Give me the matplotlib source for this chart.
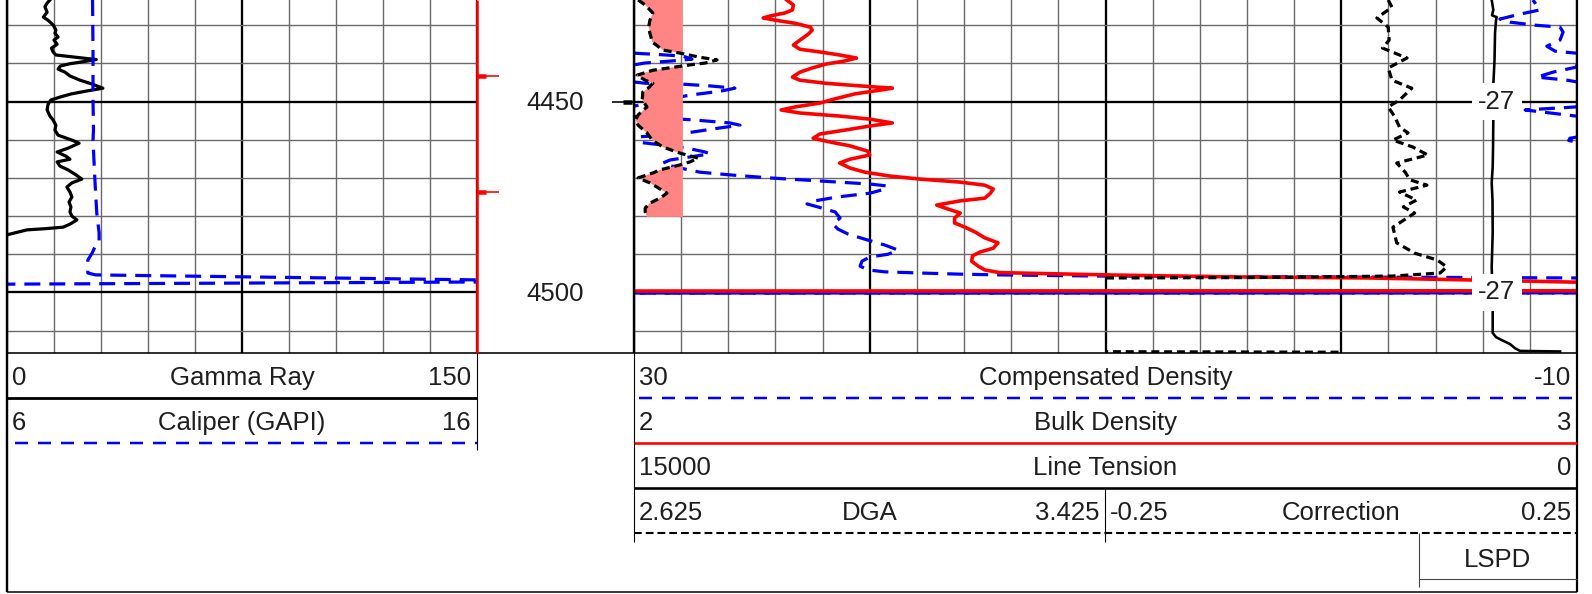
import matplotlib
matplotlib.use("Agg")
import matplotlib.pyplot as plt
import numpy as np

plt.rcParams['font.family'] = ['Liberation Sans', 'DejaVu Sans']

# ---------------- data ----------------
depth_top, depth_bot = 4423.4, 4515.85      # visible depth window
grid_minor = np.arange(4430, 4511, 10)
grid_major = [4450, 4500]

# header rows: (left scale, name, right scale)
hdr_gr = ('0', 'Gamma Ray', '150')
hdr_cal = ('6', 'Caliper (GAPI)', '16')
hdr_cd = ('30', 'Compensated Density', '-10')
hdr_bd = ('2', 'Bulk Density', '3')
hdr_lt = ('15000', 'Line Tension', '0')
hdr_dga = ('2.625', 'DGA', '3.425')
hdr_cor = ('-0.25', 'Correction', '0.25')

depth_labels = [4450, 4500]
shift_labels = [(4450, '-27'), (4500, '-27')]
red_marks = [4443.3, 4473.6]
black_marks = [4450.0]
dga_cutoff = 2.708

# curves as (depth, value)
gamma_ray = np.array([
    (4423.4, 13.7), (4424.2, 12.8), (4425.2, 12.1), (4426.6, 12.8), (4427.9, 11.6),
    (4428.7, 13.1), (4430.0, 14.8), (4431.3, 15.6), (4432.1, 15.3), (4433.1, 16.3),
    (4433.9, 15.0), (4435.0, 16.0), (4436.0, 14.2), (4437.0, 14.7), (4437.8, 15.6),
    (4438.4, 22.0), (4439.0, 28.5), (4439.6, 24.0), (4440.1, 20.0), (4440.7, 17.0),
    (4441.5, 16.3), (4442.3, 18.5), (4443.3, 20.1), (4444.4, 23.3), (4445.4, 27.1),
    (4446.5, 30.6), (4447.3, 25.0), (4448.0, 20.5), (4448.8, 17.0), (4449.6, 14.0),
    (4450.7, 13.1), (4452.2, 12.8), (4453.8, 13.7), (4454.8, 14.7), (4456.2, 15.6),
    (4457.5, 15.3), (4458.8, 16.3), (4460.1, 20.7), (4460.9, 23.0), (4462.2, 19.5),
    (4463.2, 16.0), (4464.3, 18.8), (4465.1, 20.1), (4465.8, 16.0), (4466.9, 16.9),
    (4467.9, 19.5), (4469.2, 22.0), (4470.3, 23.9), (4471.3, 20.7), (4472.4, 19.1),
    (4473.7, 20.1), (4475.0, 20.7), (4476.3, 19.8), (4477.6, 20.4), (4478.9, 20.1),
    (4480.0, 20.7), (4481.0, 22.3), (4482.1, 20.1), (4482.9, 17.9), (4483.3, 12.0),
    (4483.6, 6.4), (4484.9, 0.0), (4485.2, -2.2)])

caliper = np.array([
    (4423.4, 7.82), (4436.5, 7.83), (4449.6, 7.83), (4457.5, 7.84), (4460.1, 7.83),
    (4470.5, 7.87), (4479.2, 7.91), (4484.4, 7.96), (4487.0, 7.96), (4488.1, 7.87),
    (4489.7, 7.81), (4491.5, 7.72), (4494.9, 7.72), (4495.4, 7.89), (4496.7, 16.0),
    (4496.9, 17.0), (4497.2, 17.0), (4497.8, 6.3), (4497.9, 5.0)])

comp_density = np.array([
    (4423.4, 31.87), (4426.0, 31.57), (4427.1, 32.42), (4428.4, 33.27), (4429.2, 32.84),
    (4430.0, 31.78), (4430.5, 30.72), (4431.8, 30.59), (4433.9, 30.72), (4435.5, 31.28),
    (4436.8, 30.93), (4437.3, 30.08), (4437.5, 29.5), (4437.7, 28.9), (4438.1, 27.92),
    (4438.9, 27.54), (4439.4, 28.47), (4439.9, 29.53), (4440.4, 30.0), (4441.0, 30.04),
    (4442.3, 31.02), (4443.6, 31.7), (4444.4, 30.42), (4444.9, 29.96), (4445.2, 29.53),
    (4445.4, 28.05), (4445.9, 26.78), (4446.5, 25.72), (4447.3, 26.35), (4448.3, 27.62),
    (4449.6, 28.77), (4450.7, 29.62), (4451.2, 30.0), (4451.4, 30.04), (4452.2, 32.2),
    (4453.8, 30.04), (4454.0, 29.9), (4454.3, 28.77), (4454.8, 27.5), (4455.6, 25.93),
    (4456.2, 25.5), (4456.9, 26.35), (4458.2, 27.75), (4459.0, 29.19), (4459.3, 30.0),
    (4459.6, 30.3), (4460.2, 30.35), (4460.6, 29.97), (4460.8, 29.6), (4461.4, 28.77),
    (4462.2, 27.75), (4463.2, 26.99), (4463.7, 26.78), (4464.5, 27.62), (4465.3, 28.47),
    (4466.1, 28.77), (4466.9, 28.39), (4467.4, 28.05), (4468.5, 27.2), (4469.2, 25.93),
    (4470.0, 24.23), (4470.8, 22.11), (4471.6, 19.99), (4472.1, 19.27), (4472.9, 19.35),
    (4474.0, 19.99), (4475.0, 21.39), (4476.0, 22.32), (4476.8, 22.66), (4477.6, 22.2),
    (4478.9, 21.47), (4480.5, 21.26), (4482.1, 21.56), (4483.4, 21.35), (4484.7, 20.92),
    (4486.3, 20.07), (4487.6, 19.35), (4488.9, 18.8), (4490.0, 19.23), (4490.7, 19.99),
    (4491.8, 20.33), (4493.1, 20.41), (4494.1, 20.07), (4494.6, 19.35), (4494.9, 17.87),
    (4495.2, 16.17), (4495.4, 14.47), (4495.7, 10.23), (4495.9, 1.75), (4496.2, -10.0),
    (4496.4, -11.0), (4500.1, -11.0), (4500.2, 75.0), (4515.8, 75.0)])

bulk_density = np.array([
    (4423.4, 2.162), (4424.7, 2.169), (4426.0, 2.168), (4426.8, 2.160), (4427.6, 2.144),
    (4428.1, 2.137), (4428.7, 2.150), (4429.5, 2.171), (4430.5, 2.187), (4431.3, 2.189),
    (4432.3, 2.185), (4433.9, 2.176), (4435.2, 2.169), (4436.3, 2.176), (4437.0, 2.197),
    (4437.8, 2.218), (4438.6, 2.236), (4439.4, 2.223), (4440.2, 2.203), (4441.2, 2.189),
    (4442.3, 2.176), (4443.6, 2.168), (4444.4, 2.176), (4445.2, 2.203), (4445.7, 2.229),
    (4446.5, 2.274), (4447.0, 2.261), (4448.0, 2.234), (4449.3, 2.213), (4450.4, 2.197),
    (4451.4, 2.171), (4452.2, 2.156), (4453.0, 2.176), (4453.8, 2.218), (4454.6, 2.250),
    (4455.6, 2.274), (4456.4, 2.250), (4457.5, 2.223), (4458.5, 2.197), (4459.6, 2.190),
    (4460.6, 2.208), (4461.6, 2.229), (4463.0, 2.248), (4464.0, 2.250), (4465.1, 2.229),
    (4466.1, 2.218), (4467.4, 2.229), (4468.5, 2.245), (4469.5, 2.271), (4470.3, 2.303),
    (4471.1, 2.346), (4471.9, 2.372), (4472.9, 2.381), (4474.0, 2.378), (4475.3, 2.372),
    (4476.0, 2.346), (4477.1, 2.321), (4477.9, 2.330), (4479.2, 2.346), (4480.5, 2.340),
    (4481.8, 2.340), (4482.9, 2.351), (4484.2, 2.362), (4485.7, 2.372), (4487.0, 2.386),
    (4488.4, 2.381), (4489.4, 2.367), (4490.4, 2.359), (4491.8, 2.358), (4493.1, 2.365),
    (4494.1, 2.372), (4494.8, 2.388), (4495.4, 2.502), (4495.9, 2.625), (4496.2, 2.780),
    (4496.7, 2.883), (4497.3, 2.999), (4497.5, 3.05), (4499.55, 3.05), (4499.65, 1.5),
    (4515.8, 1.5)])

line_tension = np.array([
    (4423.4, 1357), (4426.0, 1331), (4427.4, 1352), (4427.9, 1277), (4428.7, 1288),
    (4432.1, 1304), (4439.1, 1312), (4445.7, 1331), (4454.8, 1331), (4462.7, 1336),
    (4467.1, 1341), (4471.3, 1357), (4475.8, 1344), (4484.4, 1341), (4493.3, 1357),
    (4502.0, 1341), (4510.6, 1341), (4511.7, 1288), (4512.5, 1193), (4513.5, 1066),
    (4514.6, 986), (4515.3, 907), (4515.45, 270)])

dga = np.array([
    (4423.4, 2.632), (4424.7, 2.644), (4426.8, 2.657), (4428.7, 2.652), (4430.5, 2.650),
    (4432.1, 2.652), (4434.4, 2.656), (4436.5, 2.674), (4437.3, 2.703), (4438.4, 2.737),
    (4439.1, 2.766), (4439.9, 2.746), (4440.4, 2.720), (4441.8, 2.657), (4443.1, 2.630),
    (4444.4, 2.644), (4445.2, 2.657), (4446.5, 2.649), (4447.5, 2.640), (4449.6, 2.639),
    (4451.4, 2.647), (4453.5, 2.632), (4454.8, 2.628), (4456.2, 2.632), (4458.2, 2.647),
    (4460.1, 2.656), (4461.9, 2.674), (4463.5, 2.703), (4464.8, 2.734), (4465.8, 2.720),
    (4466.6, 2.703), (4467.9, 2.669), (4468.7, 2.657), (4470.0, 2.632), (4471.3, 2.652),
    (4472.4, 2.664), (4474.0, 2.681), (4475.3, 2.669), (4476.6, 2.652), (4477.9, 2.644),
    (4478.9, 2.644), (4480.2, 2.647)])

correction = np.array([
    (4423.4, 0.050), (4425.3, 0.054), (4428.1, 0.038), (4430.5, 0.050), (4433.9, 0.051),
    (4436.0, 0.044), (4438.6, 0.070), (4441.2, 0.050), (4444.4, 0.054), (4446.5, 0.075),
    (4449.6, 0.062), (4451.4, 0.050), (4454.0, 0.057), (4456.7, 0.062), (4458.2, 0.071),
    (4460.1, 0.055), (4461.9, 0.076), (4464.0, 0.092), (4466.1, 0.059), (4468.5, 0.068),
    (4470.5, 0.073), (4471.9, 0.091), (4473.7, 0.062), (4475.8, 0.080), (4477.6, 0.066),
    (4479.2, 0.078), (4482.9, 0.055), (4487.0, 0.059), (4489.7, 0.078), (4491.5, 0.102),
    (4493.3, 0.112), (4494.9, 0.105), (4495.7, 0.055), (4496.1, -0.096), (4496.2, -0.25),
    (4496.3, -0.27), (4515.5, -0.27), (4515.65, 0.0)])

# ---------------- layout (pixels) ----------------
W, H = 1592, 594
T1 = (7, 477)
TD = (477, 634)
T3 = (634, 1577)
T3a = (634, 1105)
T3b = (1105, 1577)
TRACK_BOTTOM = 353
PX = 0.72  # px -> pt at 100 dpi
FS = 18.5
TXT = '#1e1e1e'

fig = plt.figure(figsize=(W / 100, H / 100), dpi=100)


def add_ax(xr, y0=0, y1=TRACK_BOTTOM):
    return fig.add_axes([xr[0] / W, 1 - y1 / H, (xr[1] - xr[0]) / W, (y1 - y0) / H])


def lim(h):
    return float(h[0]), float(h[2])


def overlay(xr, xlim):
    ax = add_ax(xr)
    ax.set_xlim(*xlim)
    ax.set_ylim(depth_bot, depth_top)
    ax.axis('off')
    return ax


def grid_axes(xr, ndiv):
    ax = add_ax(xr)
    ax.set_xlim(0, ndiv)
    ax.set_ylim(depth_bot, depth_top)
    ax.set_xticks(np.arange(0, ndiv + 1, 5))
    ax.set_xticks(np.arange(0, ndiv + 1), minor=True)
    ax.set_yticks(grid_major)
    ax.set_yticks(grid_minor, minor=True)
    ax.tick_params(which='both', length=0, labelbottom=False, labelleft=False)
    ax.grid(which='minor', color='#6a6a6a', lw=1.4 * PX)
    ax.grid(which='major', color='black', lw=2.3 * PX)
    for s in ax.spines.values():
        s.set_visible(False)
    return ax


grid_axes(T1, 10)
grid_axes(T3, 20)

blue_dash = (0, (5.0, 2.8))
black_dash = (0, (2.5, 1.5))
LW = 3.2 * PX

# track 1
ax = overlay(T1, lim(hdr_gr))
ax.plot(gamma_ray[:, 1], gamma_ray[:, 0], color='black', lw=LW)
ax = overlay(T1, lim(hdr_cal))
ax.plot(caliper[:, 1], caliper[:, 0], color='blue', lw=LW, ls=blue_dash)

# track 3
cd_lim = lim(hdr_cd)
wrap = cd_lim[0] - cd_lim[1]
ax = overlay(T3, cd_lim)
ax.plot(comp_density[:, 1], comp_density[:, 0], color='blue', lw=LW, ls=blue_dash)
ax.plot(comp_density[:, 1] - wrap, comp_density[:, 0], color='blue', lw=LW,
        ls=(3.5, (5.0, 2.8)))

ax = overlay(T3, lim(hdr_bd))
ax.plot(bulk_density[:, 1], bulk_density[:, 0], color='red', lw=3.6 * PX)

ax = overlay(T3a, lim(hdr_dga))
ax.fill_betweenx(dga[:, 0], dga[:, 1], dga_cutoff, where=dga[:, 1] < dga_cutoff,
                 interpolate=True, color='#ff8585', lw=0)
ax.plot(dga[:, 1], dga[:, 0], color='black', lw=LW, ls=black_dash)

ax = overlay(T3b, lim(hdr_cor))
ax.plot(correction[:, 1], correction[:, 0], color='black', lw=LW, ls=black_dash)

ax = overlay(T3, lim(hdr_lt))
ax.plot(line_tension[:, 1], line_tension[:, 0], color='black', lw=2.6 * PX)

# depth track
ax = overlay(TD, (0, 1))
for d in depth_labels:
    ax.annotate(str(d), (0.5, d), xytext=(0, -6.3), textcoords='offset points',
                ha='center', va='baseline', fontsize=FS, color=TXT)
for d in red_marks:
    ax.plot([0, 0.14], [d, d], color='red', lw=1.6 * PX, solid_capstyle='butt')
    ax.plot([0, 0.055], [d, d], color='red', lw=4.5 * PX, solid_capstyle='butt')
for d in black_marks:
    ax.plot([0.86, 1.0], [d, d], color='black', lw=1.6 * PX, solid_capstyle='butt')
    ax.plot([0.93, 0.99], [d, d], color='black', lw=4.5 * PX, solid_capstyle='butt')

# ---------------- frame and header ----------------
fr = fig.add_axes([0, 0, 1, 1])
fr.set_xlim(0, W)
fr.set_ylim(H, 0)
fr.axis('off')


def seg(x0, x1, y0, y1, **kw):
    kw.setdefault('solid_capstyle', 'butt')
    fr.plot([x0, x1], [y0, y1], **kw)


BOTTOM = 592
seg(T1[0], T1[0], 0, BOTTOM, color='black', lw=2.4 * PX)
seg(T3[1], T3[1], 0, BOTTOM, color='black', lw=2.2 * PX)
seg(T1[0], T3[1], BOTTOM, BOTTOM, color='black', lw=1.5 * PX)
seg(T1[0], T3[1], TRACK_BOTTOM, TRACK_BOTTOM, color='black', lw=1.6 * PX)
seg(T1[1], T1[1], 0, TRACK_BOTTOM, color='red', lw=2.6 * PX)
seg(T3[0], T3[0], 0, TRACK_BOTTOM, color='black', lw=2.4 * PX)
seg(T1[1], T1[1], TRACK_BOTTOM, 450, color='black', lw=1.1 * PX)
seg(T3[0], T3[0], TRACK_BOTTOM, 542, color='black', lw=1.1 * PX)
seg(T3b[0], T3b[0], 488, 542, color='black', lw=1.1 * PX)
seg(1419, 1419, 533, 587, color='#444444', lw=1.1 * PX)
seg(1419, T3[1], 579, 579, color='#444444', lw=1.1 * PX)

hdr_dash = (0, (5.2, 4.0))
seg(T1[0], T1[1], 398, 398, color='black', lw=2.8 * PX)
seg(T1[0] + 8, T1[1], 443, 443, color='blue', lw=2.5 * PX, ls=hdr_dash)
seg(T3[0] + 5, T3[1], 398, 398, color='blue', lw=2.5 * PX, ls=hdr_dash)
seg(T3[0], T3[1], 443, 443, color='red', lw=2.6 * PX)
seg(T3[0], T3[1], 488, 488, color='black', lw=2.6 * PX)
seg(T3[0], T3[1], 533, 533, color='black', lw=2.1 * PX, ls=(0, (3.7, 1.9)))


def header_row(hdr, xr, y):
    lo, name, hi = hdr
    kw = dict(va='baseline', fontsize=FS, color=TXT)
    fr.text(xr[0] + 5, y, lo, ha='left', **kw)
    fr.text((xr[0] + xr[1]) / 2, y, name, ha='center', **kw)
    fr.text(xr[1] - 6, y, hi, ha='right', **kw)


header_row(hdr_gr, T1, 385)
header_row(hdr_cal, T1, 430)
header_row(hdr_cd, T3, 385)
header_row(hdr_bd, T3, 430)
header_row(hdr_lt, T3, 475)
header_row(hdr_dga, T3a, 520)
header_row(hdr_cor, T3b, 520)
fr.text((1419 + T3[1]) / 2, 567, 'LSPD', ha='center', va='baseline', fontsize=FS,
        color=TXT)

# boxed labels on top of track 3
ax = overlay(T3, (0, 1))
for d, s in shift_labels:
    ax.text(0.915, d, s, ha='center', va='center', fontsize=FS, color=TXT,
            bbox=dict(boxstyle='square,pad=0.24', fc='white', ec='none'))

fig.savefig('out.png', dpi=100)
